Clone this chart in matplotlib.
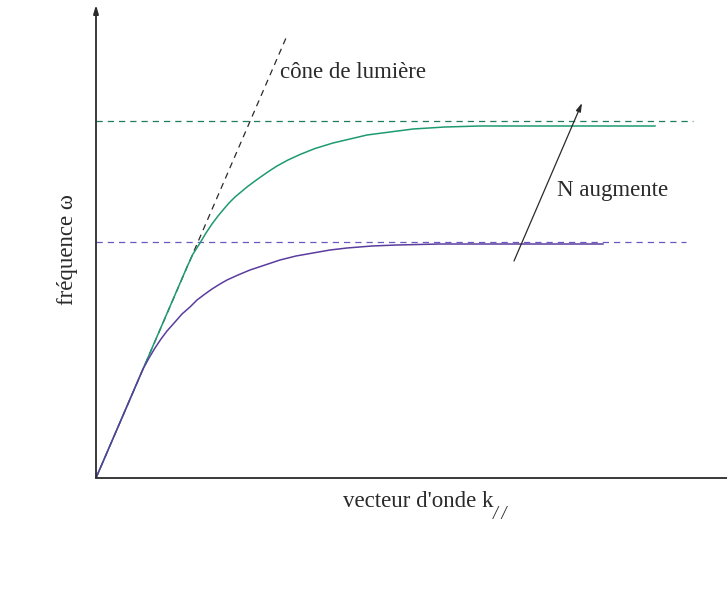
import matplotlib
matplotlib.use("Agg")
import matplotlib.pyplot as plt

plt.rcParams["font.family"] = ["Liberation Serif", "DejaVu Serif"]

# Dispersion curves (wave vector k, frequency omega), arbitrary units
k_high = [0.00, 0.91, 0.97, 1.04, 1.10, 1.16, 1.22, 1.27, 1.33, 1.39, 1.45,
          1.51, 1.59, 1.66, 1.74, 1.81, 1.92, 2.04, 2.19, 2.37, 2.54, 2.71,
          2.94, 3.17, 3.49, 3.84, 4.64, 5.59]
w_high = [0.00, 2.11, 2.24, 2.35, 2.45, 2.54, 2.62, 2.68, 2.75, 2.81, 2.86,
          2.91, 2.97, 3.02, 3.075, 3.12, 3.18, 3.235, 3.295, 3.35, 3.39, 3.43,
          3.46, 3.49, 3.51, 3.52, 3.52, 3.52]

k_low = [0.00, 0.47, 0.53, 0.59, 0.65, 0.71, 0.79, 0.86, 0.94, 1.01, 1.09,
         1.16, 1.24, 1.31, 1.42, 1.54, 1.69, 1.84, 2.00, 2.17, 2.34, 2.51,
         2.76, 3.01, 3.44, 3.84, 5.07]
w_low = [0.00, 1.09, 1.20, 1.30, 1.39, 1.47, 1.56, 1.64, 1.71, 1.78, 1.84,
         1.89, 1.94, 1.98, 2.03, 2.08, 2.13, 2.18, 2.22, 2.25, 2.28, 2.30,
         2.32, 2.33, 2.34, 2.34, 2.34]

# Asymptotic frequencies
w_asym_high = 3.57
w_asym_low = 2.36

# Light cone omega = c k
cone_k = [0.0, 1.90]
cone_w = [0.0, 4.40]

# "N augmente" arrow
arrow_start = (4.18, 2.17)
arrow_end = (4.86, 3.75)

green = "#1e9a72"
green_dash = "#1f7d5e"
purple = "#5a3d9e"
purple_dash = "#6a58c0"
ink = "#2a2a2a"

fig = plt.figure(figsize=(7.27, 6.01), dpi=100)
ax = fig.add_axes([0, 0, 1, 1])
ax.set_xlim(-0.96, 6.31)
ax.set_ylim(-1.23, 4.78)
ax.axis("off")

# Axes with arrow on the frequency axis
ax.plot([0, 6.31], [0, 0], color=ink, lw=1.3, solid_capstyle="butt")
ax.annotate("", xy=(0, 4.73), xytext=(0, 0),
            arrowprops=dict(arrowstyle="-|>,head_length=0.5,head_width=0.15",
                            color=ink, lw=1.3, shrinkA=0, shrinkB=0))

# Asymptotes
ax.plot([0, 5.97], [w_asym_high, w_asym_high], color=green_dash, lw=0.9,
        dashes=(5, 4))
ax.plot([0, 5.90], [w_asym_low, w_asym_low], color=purple_dash, lw=0.9,
        dashes=(5, 4))

# Light cone
ax.plot(cone_k, cone_w, color=ink, lw=0.9, dashes=(5, 4))

# Dispersion curves
ax.plot(k_high, w_high, color=green, lw=1.1, solid_joinstyle="round")
ax.plot(k_low, w_low, color=purple, lw=1.1, solid_joinstyle="round")

ax.annotate("", xy=arrow_end, xytext=arrow_start,
            arrowprops=dict(arrowstyle="-|>,head_length=0.5,head_width=0.15",
                            color=ink, lw=0.9, shrinkA=0, shrinkB=0))

fs = 16.5
ax.text(1.84, 4.00, "cône de lumière", fontsize=fs, color=ink,
        ha="left", va="baseline")
ax.text(4.61, 2.82, "N augmente", fontsize=fs, color=ink,
        ha="left", va="baseline")
xlab = ax.text(2.47, -0.29, "vecteur d'onde k", fontsize=fs, color=ink,
               ha="left", va="baseline")
ax.text(-0.28, 2.28, "fréquence ω", fontsize=fs, color=ink, rotation=90,
        ha="center", va="center")

# Subscript "//" placed right after the k of the axis label
fig.canvas.draw()
bb = xlab.get_window_extent()
x_end = ax.transData.inverted().transform((bb.x1, bb.y0))[0]
ax.text(x_end - 0.005, -0.41, "/ /", fontsize=13, style="italic", color=ink,
        ha="left", va="baseline")

fig.savefig("out.png", dpi=100)
